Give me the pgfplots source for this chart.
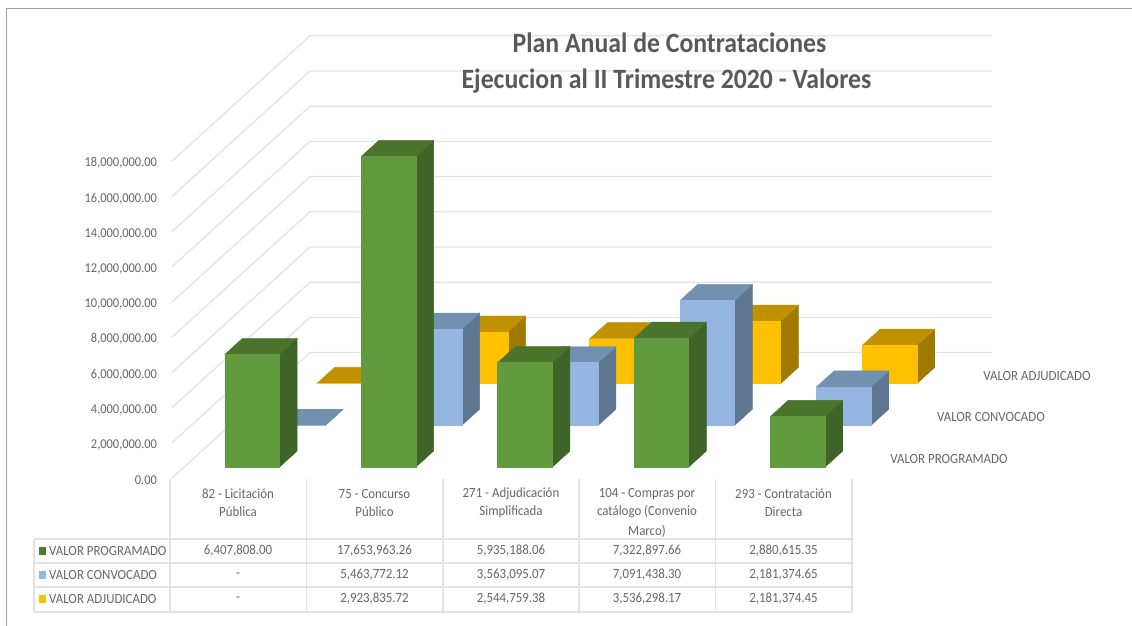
\documentclass[border=0pt]{standalone}
\usepackage{fontspec}
\setmainfont{Carlito}
\usepackage{pgfplots}
\pgfplotsset{compat=1.18}

\definecolor{txt}{HTML}{666666}
\definecolor{titletxt}{HTML}{595959}
\definecolor{gridc}{HTML}{E2E2E2}
\definecolor{framec}{HTML}{A0A0A0}
\definecolor{grnF}{HTML}{629B3D}
\definecolor{grnT}{HTML}{4A742C}
\definecolor{grnS}{HTML}{3F6428}
\definecolor{bluF}{HTML}{95B6E0}
\definecolor{bluT}{HTML}{7290B0}
\definecolor{bluS}{HTML}{5F7690}
\definecolor{yelF}{HTML}{FFC000}
\definecolor{yelT}{HTML}{C29100}
\definecolor{yelS}{HTML}{A07A00}

% category, series depth, value in millions, colour prefix
\newcommand\threedbar[4]{%
  \pgfmathsetmacro\xa{#1+0.30}%
  \pgfmathsetmacro\xb{#1+0.70}%
  \pgfmathsetmacro\ya{#2+0.26}%
  \pgfmathsetmacro\yb{#2+0.645}%
  \edef\tmp{%
    \noexpand\addplot3[draw=#4S,line width=0.4pt,fill=#4S,forget plot] coordinates {(\xb,\ya,0) (\xb,\yb,0) (\xb,\yb,#3) (\xb,\ya,#3)} --cycle;
    \noexpand\addplot3[draw=#4T,line width=0.4pt,fill=#4T,forget plot] coordinates {(\xa,\ya,#3) (\xb,\ya,#3) (\xb,\yb,#3) (\xa,\yb,#3)} --cycle;
    \noexpand\addplot3[draw=#4F,line width=0.4pt,fill=#4F,forget plot] coordinates {(\xa,\ya,0) (\xb,\ya,0) (\xb,\ya,#3) (\xa,\ya,#3)} --cycle;
  }\tmp}
\newcommand\wallline[1]{%
  \addplot3[gridc,line width=1.2pt,forget plot] coordinates {(0,0,#1) (0,3,#1) (5,3,#1)};
  \node[anchor=east,text=txt,font=\fontsize{13.5}{15}\selectfont,xshift=-11.5pt,yshift=-2pt]
    at (axis cs:0,0,#1) {\scalebox{0.92}[1]{\pgfmathprintnumber[fixed,fixed zerofill,precision=2,1000 sep={,},assume math mode=true]{\the\numexpr #1*1000000\relax}}};}
\newcommand\sx[1]{\scalebox{0.92}[1]{#1}}

\begin{document}
\begin{tikzpicture}[x=1pt,y=1pt]
\useasboundingbox (0,0) rectangle (1132,626);

\begin{axis}[
    at={(172pt,148pt)},
    anchor=origin,
    disabledatascaling,
    hide axis,
    clip=false,
    x={(136.4pt,0pt)},
    y={(46pt,41.8pt)},
    z={(0pt,17.6pt)},
    xmin=0, xmax=5,
    ymin=0, ymax=3,
    zmin=0, zmax=18,
  ]
\wallline{0}\wallline{2}\wallline{4}\wallline{6}\wallline{8}
\wallline{10}\wallline{12}\wallline{14}\wallline{16}\wallline{18}

% VALOR ADJUDICADO
\threedbar{0}{2}{0}{yel}
\threedbar{1}{2}{2.92383572}{yel}
\threedbar{2}{2}{2.54475938}{yel}
\threedbar{3}{2}{3.53629817}{yel}
\threedbar{4}{2}{2.18137445}{yel}
% VALOR CONVOCADO
\threedbar{0}{1}{0}{blu}
\threedbar{1}{1}{5.46377212}{blu}
\threedbar{2}{1}{3.56309507}{blu}
\threedbar{3}{1}{7.09143830}{blu}
\threedbar{4}{1}{2.18137465}{blu}
% VALOR PROGRAMADO
\threedbar{0}{0}{6.40780800}{grn}
\threedbar{1}{0}{17.65396326}{grn}
\threedbar{2}{0}{5.93518806}{grn}
\threedbar{3}{0}{7.32289766}{grn}
\threedbar{4}{0}{2.88061535}{grn}
\end{axis}

\begin{scope}[x=1pt,y=-1pt,shift={(0pt,626pt)}]
  % frame
  \draw[framec,line width=1pt] (6.5,626) -- (6.5,8.5) -- (1132,8.5);

  % title
  \node[text=titletxt,font=\fontsize{28}{30}\bfseries\selectfont] at (669.5,43) {\scalebox{0.92}[1]{Plan Anual de Contrataciones}};
  \node[text=titletxt,font=\fontsize{28}{30}\bfseries\selectfont] at (666.5,81) {\scalebox{0.92}[1]{Ejecucion al II Trimestre 2020 - Valores}};

  % series names on the depth axis
  \tikzset{lab/.style={text=txt,font=\fontsize{14}{16}\selectfont,inner sep=0pt}}
  \node[lab] at (1037,376) {\sx{VALOR ADJUDICADO}};
  \node[lab] at (991,417) {\sx{VALOR CONVOCADO}};
  \node[lab] at (949,459) {\sx{VALOR PROGRAMADO}};

  % data table
  \draw[gridc,line width=1.2pt]
    (34,539) -- (852,539) (34,563) -- (852,563) (34,587) -- (852,587) (34,612) -- (852,612)
    (34,539) -- (34,612)
    (170,479) -- (170,612) (306.5,479) -- (306.5,612) (443,479) -- (443,612)
    (579,479) -- (579,612) (715.5,479) -- (715.5,612) (852,479) -- (852,612);

  \fill[grnF!80!black] (39,547) rectangle (46,555);
  \fill[bluF] (39,571) rectangle (46,579);
  \fill[yelF] (39,595) rectangle (46,603);
  \node[lab,anchor=west] at (49,551) {\sx{VALOR PROGRAMADO}};
  \node[lab,anchor=west] at (49,575) {\sx{VALOR CONVOCADO}};
  \node[lab,anchor=west] at (49,599) {\sx{VALOR ADJUDICADO}};

  \node[lab] at (238,494) {\sx{82 - Licitación}};
  \node[lab] at (238,512) {\sx{Pública}};
  \node[lab] at (374.5,494) {\sx{75 - Concurso}};
  \node[lab] at (374.5,512) {\sx{Público}};
  \node[lab] at (511,494) {\sx{271 - Adjudicación}};
  \node[lab] at (511,512) {\sx{Simplificada}};
  \node[lab] at (647,494) {\sx{104 - Compras por}};
  \node[lab] at (647,512) {\sx{catálogo (Convenio}};
  \node[lab] at (647,531) {\sx{Marco)}};
  \node[lab] at (783.5,494) {\sx{293 - Contratación}};
  \node[lab] at (783.5,512) {\sx{Directa}};

  \node[lab] at (238,551) {\sx{6,407,808.00}};
  \node[lab] at (374.5,551) {\sx{17,653,963.26}};
  \node[lab] at (511,551) {\sx{5,935,188.06}};
  \node[lab] at (647,551) {\sx{7,322,897.66}};
  \node[lab] at (783.5,551) {\sx{2,880,615.35}};

  \node[lab] at (238,575) {\sx{-}};
  \node[lab] at (374.5,575) {\sx{5,463,772.12}};
  \node[lab] at (511,575) {\sx{3,563,095.07}};
  \node[lab] at (647,575) {\sx{7,091,438.30}};
  \node[lab] at (783.5,575) {\sx{2,181,374.65}};

  \node[lab] at (238,599) {\sx{-}};
  \node[lab] at (374.5,599) {\sx{2,923,835.72}};
  \node[lab] at (511,599) {\sx{2,544,759.38}};
  \node[lab] at (647,599) {\sx{3,536,298.17}};
  \node[lab] at (783.5,599) {\sx{2,181,374.45}};
\end{scope}
\end{tikzpicture}
\end{document}
